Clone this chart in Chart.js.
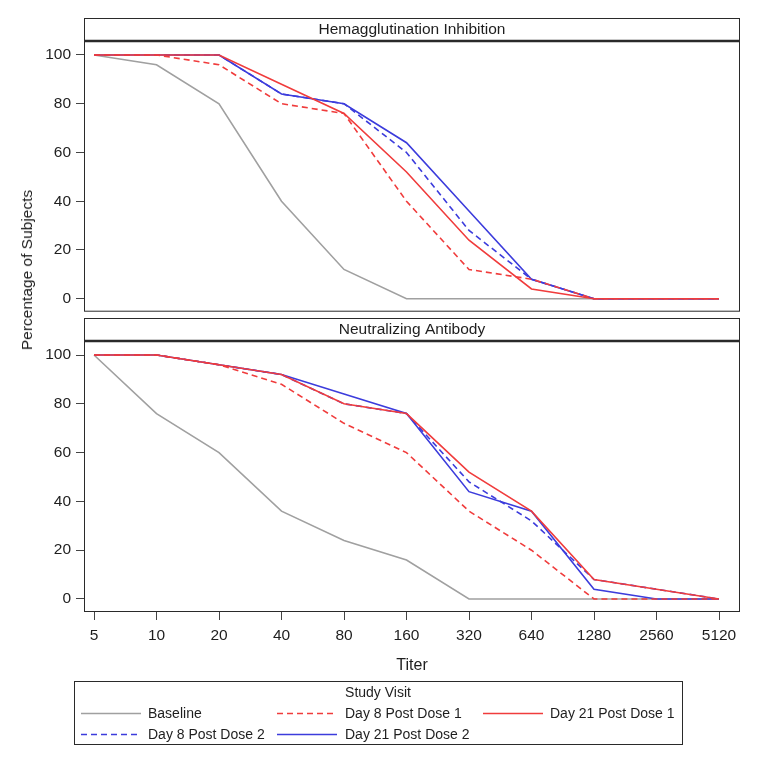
<!DOCTYPE html>
<html>
<head>
<meta charset="utf-8">
<script src="https://cdn.jsdelivr.net/npm/chart.js@4.4.1/dist/chart.umd.min.js"></script>
<style>
  body { margin: 0; background: #fff; font-family: "Liberation Sans", Arial, sans-serif; }
  #wrap { position: relative; width: 769px; height: 760px; }
  #topChart { position: absolute; left: 0; top: 0; }
  #bottomChart { position: absolute; left: 0; top: 316px; }
  #ytitle {
    position: absolute; left: 27px; top: 270px;
    transform: translate(-50%, -50%) rotate(-90deg);
    white-space: nowrap; font-size: 15.5px; color: #1e1e1e;
  }
</style>
</head>
<body>
<div id="wrap">
  <canvas id="topChart" width="769" height="326"></canvas>
  <canvas id="bottomChart" width="769" height="444"></canvas>
  <div id="ytitle">Percentage of Subjects</div>
</div>
<script>
// x categories (titer)
const titers = ['5', '10', '20', '40', '80', '160', '320', '640', '1280', '2560', '5120'];
const yTicks = [0, 20, 40, 60, 80, 100];
const visits = ['Baseline', 'Day 8 Post Dose 1', 'Day 21 Post Dose 1', 'Day 8 Post Dose 2', 'Day 21 Post Dose 2'];

// Hemagglutination Inhibition
const hiBaseline = [100, 96, 80, 40, 12, 0, 0, 0, 0, 0, 0];
const hiD8PD1 = [100, 100, 96, 80, 76, 40, 12, 8, 0, 0, 0];
const hiD21PD1 = [100, 100, 100, 88, 76, 52, 24, 4, 0, 0, 0];
const hiD8PD2 = [100, 100, 100, 84, 80, 60, 28, 8, 0, 0, 0];
const hiD21PD2 = [100, 100, 100, 84, 80, 64, 36, 8, 0, 0, 0];

// Neutralizing Antibody
const naBaseline = [100, 76, 60, 36, 24, 16, 0, 0, 0, 0, 0];
const naD8PD1 = [100, 100, 96, 88, 72, 60, 36, 20, 0, 0, 0];
const naD21PD1 = [100, 100, 96, 92, 80, 76, 52, 36, 8, 4, 0];
const naD8PD2 = [100, 100, 96, 92, 80, 76, 48, 32, 8, 4, 0];
const naD21PD2 = [100, 100, 96, 92, 84, 76, 44, 36, 4, 0, 0];

const FONT = '"Liberation Sans", Arial, sans-serif';
const TEXT = '#1e1e1e';
const FRAME = '#2a2a2a';

const styles = [
    { color: '#a0a0a0', dash: [], order: 5 },
    { color: '#f03c3c', dash: [6, 4], order: 1 },
    { color: '#f03c3c', dash: [], order: 2 },
    { color: '#3c3cdc', dash: [6, 4], order: 3 },
    { color: '#3c3cdc', dash: [], order: 4 }
];

function makeDatasets(series) {
    return series.map((vals, i) => ({
        label: visits[i],
        data: vals.map((v, j) => ({ x: j, y: v })),
        borderColor: styles[i].color,
        backgroundColor: styles[i].color,
        borderDash: styles[i].dash,
        borderWidth: 1.6,
        pointRadius: 0,
        tension: 0,
        order: styles[i].order
    }));
}

// header strip + frame round each panel
const panelFrame = {
    id: 'panelFrame',
    afterDraw(chart, args, opts) {
        const { ctx, chartArea: a } = chart;
        const h = 23;
        ctx.save();
        ctx.strokeStyle = FRAME;
        ctx.lineWidth = 1;
        ctx.strokeRect(a.left + 0.5, a.top - h + 0.5, a.right - a.left - 1, a.bottom - a.top + h - 1);
        ctx.lineWidth = 2.5;
        ctx.beginPath();
        ctx.moveTo(a.left, a.top);
        ctx.lineTo(a.right, a.top);
        ctx.stroke();
        ctx.fillStyle = TEXT;
        ctx.font = '15.5px ' + FONT;
        ctx.textAlign = 'center';
        ctx.textBaseline = 'middle';
        ctx.fillText(opts.title, (a.left + a.right) / 2, a.top - h / 2 + 0.5);
        ctx.restore();
    }
};

// boxed legend in three columns, drawn from the dataset styles
const boxLegend = {
    id: 'boxLegend',
    afterDraw(chart) {
        const { ctx } = chart;
        const box = { x: 74, y: 365, w: 608, h: 63 };
        const lineX = [81, 277, 483];
        const textX = [148, 345, 550];
        const rowY = [397, 418];
        ctx.save();
        ctx.strokeStyle = FRAME;
        ctx.lineWidth = 1;
        ctx.strokeRect(box.x + 0.5, box.y + 0.5, box.w, box.h);
        ctx.fillStyle = TEXT;
        ctx.font = '14px ' + FONT;
        ctx.textAlign = 'center';
        ctx.textBaseline = 'middle';
        ctx.fillText('Study Visit', box.x + box.w / 2, 377);
        ctx.textAlign = 'left';
        chart.data.datasets.forEach((ds, i) => {
            const col = i % 3, row = Math.floor(i / 3);
            const y = rowY[row];
            ctx.strokeStyle = ds.borderColor;
            ctx.lineWidth = ds.borderWidth;
            ctx.setLineDash(ds.borderDash);
            ctx.beginPath();
            ctx.moveTo(lineX[col], y + 0.5);
            ctx.lineTo(lineX[col] + 60, y + 0.5);
            ctx.stroke();
            ctx.setLineDash([]);
            ctx.fillText(ds.label, textX[col], y + 1);
        });
        ctx.restore();
    }
};

function yScale() {
    return {
        type: 'linear',
        min: -5.33,
        max: 105.74,
        afterFit: s => { s.width = 84; },
        afterBuildTicks: s => { s.ticks = yTicks.map(v => ({ value: v })); },
        grid: { drawOnChartArea: false, drawTicks: true, tickLength: 8, color: '#444' },
        border: { display: false },
        ticks: { padding: 5, color: TEXT, font: { family: FONT, size: 15.5 } }
    };
}

function xScale(show) {
    return {
        type: 'linear',
        min: -0.16,
        max: 10.336,
        display: show,
        afterFit: s => { s.height = show ? 70 : 0; },
        afterBuildTicks: s => { s.ticks = titers.map((t, i) => ({ value: i })); },
        grid: { drawOnChartArea: false, drawTicks: true, tickLength: 8, color: '#444' },
        border: { display: false },
        ticks: {
            padding: 6, color: TEXT, maxRotation: 0, autoSkip: false,
            font: { family: FONT, size: 15.5 },
            callback: v => titers[v]
        },
        title: {
            display: true, text: 'Titer', color: TEXT,
            font: { family: FONT, size: 16 },
            padding: { top: 4, bottom: 7 }
        }
    };
}

const common = {
    responsive: false,
    animation: false,
    plugins: { legend: { display: false }, tooltip: { enabled: false } }
};

// top canvas is a little taller than its panel: the y axis keeps half a label of room below
new Chart(document.getElementById('topChart'), {
    type: 'line',
    data: { datasets: makeDatasets([hiBaseline, hiD8PD1, hiD21PD1, hiD8PD2, hiD21PD2]) },
    options: {
        ...common,
        layout: { padding: { left: 0, right: 29, top: 41, bottom: 0 } },
        scales: { x: xScale(false), y: yScale() },
        plugins: { ...common.plugins, panelFrame: { title: 'Hemagglutination Inhibition' } }
    },
    plugins: [panelFrame]
});

new Chart(document.getElementById('bottomChart'), {
    type: 'line',
    data: { datasets: makeDatasets([naBaseline, naD8PD1, naD21PD1, naD8PD2, naD21PD2]) },
    options: {
        ...common,
        layout: { padding: { left: 0, right: 29, top: 25, bottom: 78 } },
        scales: { x: xScale(true), y: yScale() },
        plugins: { ...common.plugins, panelFrame: { title: 'Neutralizing Antibody' } }
    },
    plugins: [panelFrame, boxLegend]
});
</script>
</body>
</html>
